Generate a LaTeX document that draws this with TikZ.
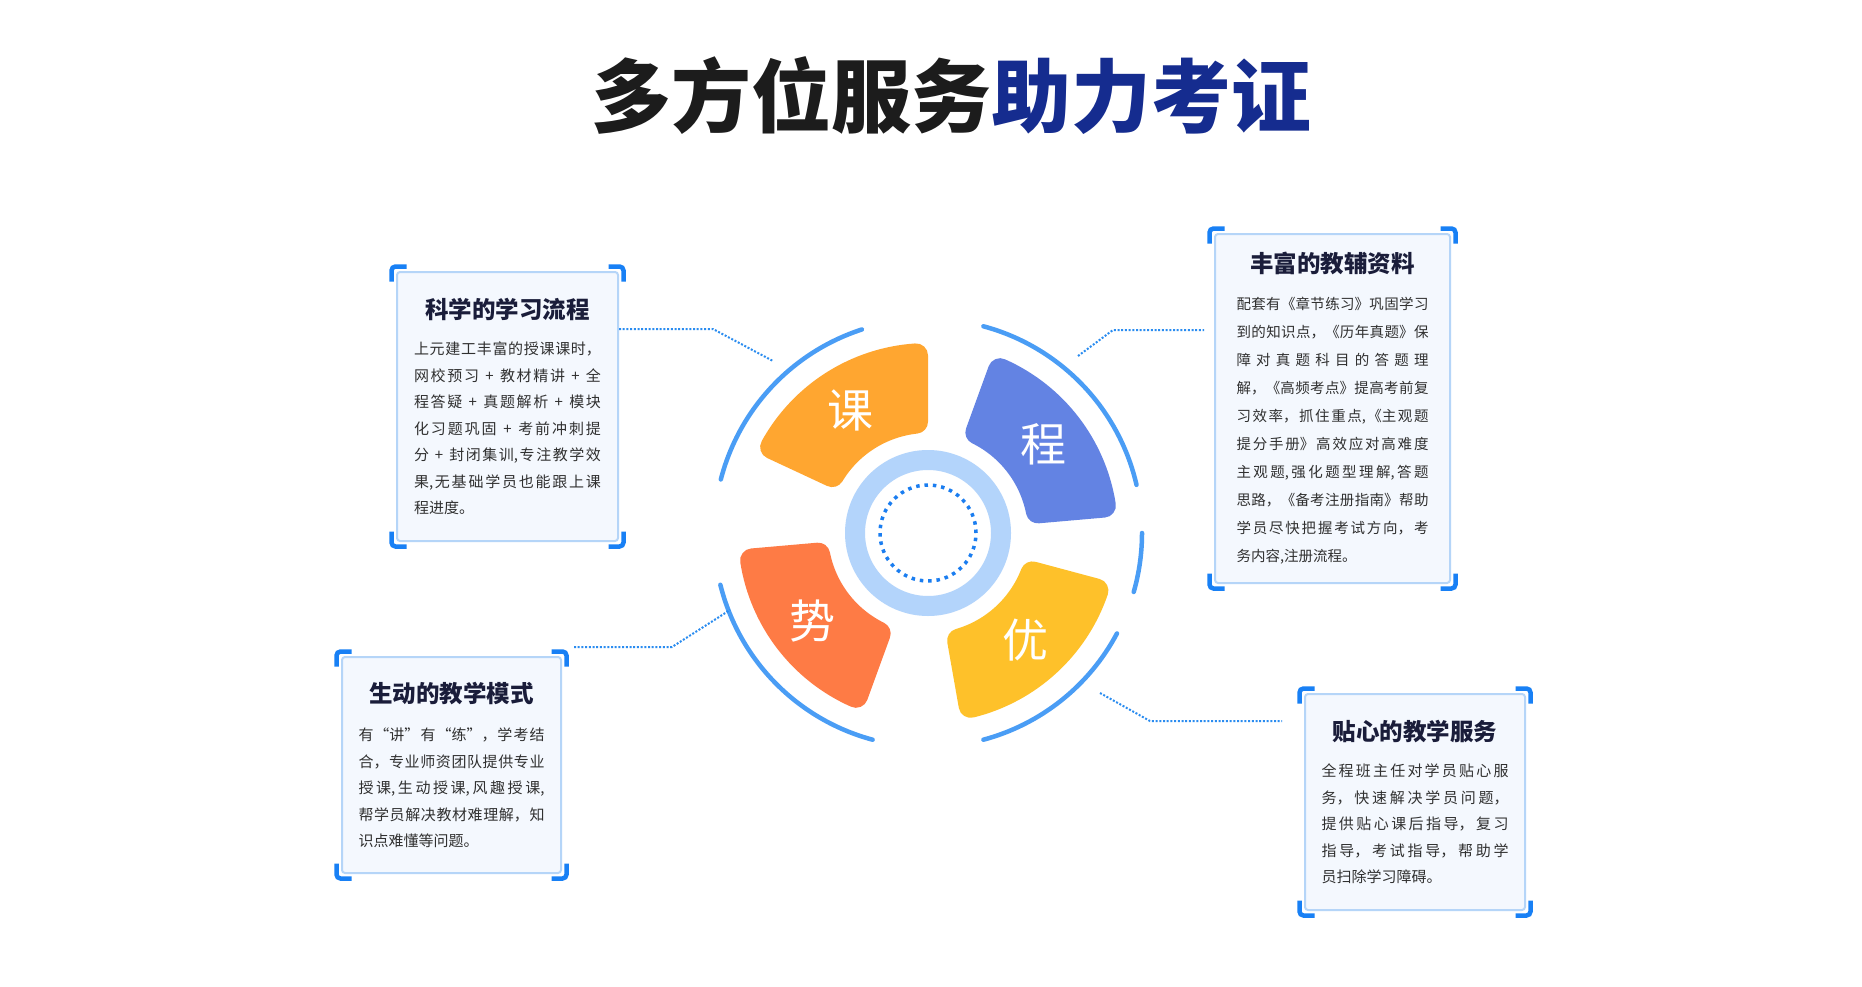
\documentclass[tikz,border=0pt]{standalone}
\usepackage{fontspec}
\setmainfont{Noto Sans CJK SC}
\usetikzlibrary{calc}
\definecolor{titleblack}{RGB}{28,28,28}
\definecolor{titleblue}{RGB}{21,44,143}
\definecolor{headnavy}{RGB}{26,29,58}
\definecolor{bodygray}{RGB}{48,48,48}
\definecolor{boxfill}{RGB}{244,248,254}
\definecolor{boxline}{RGB}{181,213,248}
\definecolor{cornerblue}{RGB}{24,128,245}
\definecolor{linkblue}{RGB}{42,140,240}
\definecolor{arcblue}{RGB}{74,157,245}
\definecolor{ringblue}{RGB}{179,212,251}
\definecolor{dotblue}{RGB}{26,125,240}
\definecolor{keorange}{RGB}{255,166,48}
\definecolor{chengblue}{RGB}{99,131,227}
\definecolor{youyellow}{RGB}{254,193,42}
\definecolor{shired}{RGB}{254,123,69}
\XeTeXlinebreaklocale "zh"
\XeTeXlinebreakskip=0pt plus 1pt
\newcommand\headfont{\fontsize{23.5}{27}\selectfont\bfseries\color{headnavy}}
\newcommand\bodyfont{\fontsize{15}{26.5}\selectfont\color{bodygray}\tolerance=10000}
\newcommand\brackets[1]{%
  \draw[corner] ($(#1.north west)+(-4.5,-10.5)$) -- ++(0,15) -- ++(15,0);
  \draw[corner] ($(#1.north east)+(-10.5,4.5)$) -- ++(15,0) -- ++(0,-15);
  \draw[corner] ($(#1.south east)+(4.5,10.5)$) -- ++(0,-15) -- ++(-15,0);
  \draw[corner] ($(#1.south west)+(10.5,-4.5)$) -- ++(-15,0) -- ++(0,15);
}
\newcommand\petal[5]{%
  \pgfmathsetmacro\pdo{asin(12/178)}
  \pgfmathsetmacro\pdi{asin(12/112)}
  \filldraw[petal, fill=#1, draw=#1] ({#2+\pdo}:178) arc[start angle={#2+\pdo}, end angle={#3-\pdo}, radius=178]
    -- ({#3-\pdi}:112) arc[start angle={#3-\pdi}, end angle={#2+\pdi}, radius=112] -- cycle;
  \node[petaltext] (#4) at ({(#2+#3)/2}:145) {#5};
}
\tikzset{
  infobox/.style={draw=boxline, line width=2pt, fill=boxfill, rounded corners=3pt, inner sep=0pt},
  corner/.style={cornerblue, line width=4.5pt, rounded corners=4pt},
  link/.style={linkblue, line width=2pt, dash pattern=on 2pt off 1.7pt},
  arcline/.style={arcblue, line width=4.5pt, line cap=round},
  petal/.style={line width=24pt, line join=round},
  petaltext/.style={text=white, font=\fontsize{46}{46}\selectfont},
}
\begin{document}
\begin{tikzpicture}[x=1pt, y=1pt]
  \fill[white] (0,0) rectangle (1862,-987);
  \useasboundingbox (0,0) rectangle (1862,-987);

  \node[font=\fontsize{80}{82}\selectfont\bfseries] (title) at (951,-96)
    {{\color{titleblack}多方位服务}{\color{titleblue}助力考证}};

  \begin{scope}[shift={(928,-533)}]
    \petal{keorange}{90}{155}{ke}{课}
    \petal{chengblue}{5}{70}{cheng}{程}
    \petal{youyellow}{-80}{-15}{you}{优}
    \petal{shired}{185}{250}{shi}{势}
    \draw[ringblue, line width=20pt] (0,0) circle[radius=73];
    \draw[dotblue, line width=3.5pt, dash pattern=on 3.5pt off 4.88pt] (0,0) circle[radius=48];
    \draw[arcline] (108:214) arc[start angle=108, end angle=165.5, radius=214];
    \draw[arcline] (13:214) arc[start angle=13, end angle=75, radius=214];
    \draw[arcline] (-16:214) arc[start angle=-16, end angle=0, radius=214];
    \draw[arcline] (-75:214) arc[start angle=-75, end angle=-28, radius=214];
    \draw[arcline] (-166:214) arc[start angle=-166, end angle=-105, radius=214];
  \end{scope}

  \node[infobox, minimum width=221, minimum height=269] (xuexi) at (507.5,-406.5) {
    \begin{minipage}{187pt}
      {\centering\headfont 科学的学习流程\par}\vspace{10pt}
      \bodyfont
      上元建工丰富的授课课时，\linebreak
      网校预习 + 教材精讲 + 全\linebreak
      程答疑 + 真题解析 + 模块\linebreak
      化习题巩固 + 考前冲刺提\linebreak
      分 + 封闭集训,专注教学效\linebreak
      果,无基础学员也能跟上课\linebreak
      程进度。
    \end{minipage}
  };
  \brackets{xuexi}

  \node[infobox, minimum width=235, minimum height=349] (ziliao) at (1332.5,-408.5) {
    \begin{minipage}{192pt}
      {\centering\headfont 丰富的教辅资料\par}\vspace{9pt}
      \bodyfont\fontsize{14.5}{28}\selectfont
      配套有《章节练习》巩固学习\linebreak
      到的知识点，《历年真题》保\linebreak
      障对真题科目的答题理\linebreak
      解，《高频考点》提高考前复\linebreak
      习效率，抓住重点,《主观题\linebreak
      提分手册》高效应对高难度\linebreak
      主观题,强化题型理解,答题\linebreak
      思路，《备考注册指南》帮助\linebreak
      学员尽快把握考试方向，考\linebreak
      务内容,注册流程。
    \end{minipage}
  };
  \brackets{ziliao}

  \node[infobox, minimum width=219, minimum height=216] (moshi) at (451.5,-765) {
    \begin{minipage}{186pt}
      {\centering\headfont 生动的教学模式\par}\vspace{12pt}
      \bodyfont
      有“讲”有“练”，学考结\linebreak
      合，专业师资团队提供专业\linebreak
      授课,生动授课,风趣授课,\linebreak
      帮学员解决教材难理解，知\linebreak
      识点难懂等问题。
    \end{minipage}
  };
  \brackets{moshi}

  \node[infobox, minimum width=220, minimum height=216] (fuwu) at (1415,-802) {
    \begin{minipage}{187pt}
      {\centering\headfont 贴心的教学服务\par}\vspace{10pt}
      \bodyfont
      全程班主任对学员贴心服\linebreak
      务，快速解决学员问题，\linebreak
      提供贴心课后指导，复习\linebreak
      指导，考试指导，帮助学\linebreak
      员扫除学习障碍。
    \end{minipage}
  };
  \brackets{fuwu}

  \coordinate (k1) at (713,-329);
  \coordinate (k1end) at (773,-361);
  \draw[link] (xuexi.east |- k1) -- (k1) -- (k1end);
  \coordinate (k2) at (1113,-330);
  \coordinate (k2end) at (1078,-356);
  \draw[link] (k2end) -- (k2) -- ([xshift=-10pt]ziliao.west |- k2);
  \coordinate (k3) at (672,-647);
  \coordinate (k3end) at (730,-610);
  \draw[link] ([xshift=12pt]moshi.east |- k3) -- (k3) -- (k3end);
  \coordinate (k4) at (1150,-721);
  \coordinate (k4end) at (1100,-693);
  \draw[link] (k4end) -- (k4) -- ([xshift=-22pt]fuwu.west |- k4);
\end{tikzpicture}
\end{document}
